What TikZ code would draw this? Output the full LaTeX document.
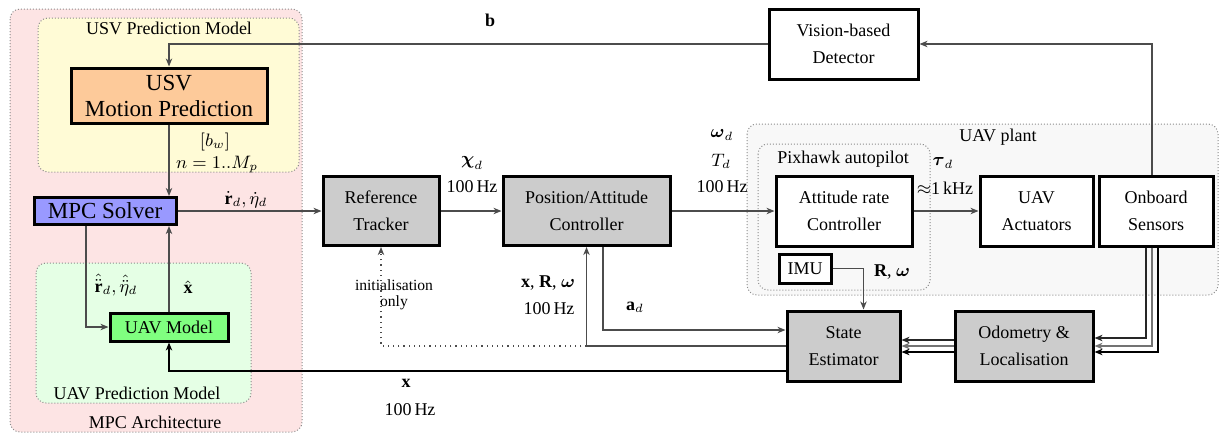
\documentclass[tikz,border=0pt]{standalone}
\usepackage{amsmath,amssymb}
\usepackage{fontspec}
\setmainfont{Liberation Serif}
\usetikzlibrary{arrows.meta}
\definecolor{pinkbg}{RGB}{253,228,228}
\definecolor{yellowbg}{RGB}{255,251,214}
\definecolor{greenbg}{RGB}{229,255,229}
\definecolor{usvorange}{RGB}{253,202,154}
\definecolor{mpcblue}{RGB}{153,153,255}
\definecolor{uavgreen}{RGB}{128,255,128}
\definecolor{graybox}{RGB}{204,204,204}
\definecolor{plantbg}{RGB}{248,248,248}
\begin{document}
\begin{tikzpicture}[x=0.5pt,y=-0.5pt,
  blk/.style={draw=black, line width=1.5pt, align=center, inner sep=0pt, font=\fontsize{9}{13.5}\selectfont},
  bigblk/.style={blk, font=\fontsize{11.5}{13}\selectfont},
  region/.style={draw=black!45, densely dotted, rounded corners=5pt, line width=0.5pt},
  conn/.style={draw=black!70, line width=0.6pt},
  arr/.style={conn, -{Stealth[length=4pt,width=3.2pt,inset=1.2pt]}},
  lbl/.style={font=\fontsize{9}{11}\selectfont, inner sep=0pt, align=center},
  smalllbl/.style={font=\fontsize{7.8}{8}\selectfont, inner sep=0pt, align=center},
]
\useasboundingbox (0,0) rectangle (1219,434);

% regions
\draw[region, fill=pinkbg] (10,9) rectangle (302,432);
\draw[region, fill=yellowbg] (38,18) rectangle (299,172);
\draw[region, fill=greenbg] (36,263) rectangle (251,403);
\draw[region, fill=plantbg] (747,124) rectangle (1218,295);
\draw[region] (758,144) rectangle (930,290);

\node[lbl] (tUSVP) at (169,28) {USV Prediction Model};
\node[lbl] (tMPCA) at (155,422) {MPC Architecture};
\node[lbl] (tUAVP) at (137,393) {UAV Prediction Model};
\node[lbl] (tPlant) at (998,137) {UAV plant};
\node[lbl] (tPix) at (843,159) {Pixhawk autopilot};

% blocks
\node[bigblk, fill=usvorange, minimum width=98pt, minimum height=27.5pt] (usv) at (169,95.5) {USV\\Motion Prediction};
\node[bigblk, fill=mpcblue, minimum width=71pt, minimum height=13.5pt] (mpc) at (105,211) {MPC Solver};
\node[blk, fill=uavgreen, minimum width=59pt, minimum height=14pt] (uavm) at (169,327) {UAV Model};
\node[blk, fill=graybox, minimum width=58pt, minimum height=34.5pt] (rt) at (381,211) {Reference\\Tracker};
\node[blk, fill=graybox, minimum width=83.5pt, minimum height=34.5pt] (pac) at (586.5,211) {Position/Attitude\\Controller};
\node[blk, fill=white, minimum width=68pt, minimum height=35pt] (arc) at (844,211) {Attitude rate\\Controller};
\node[blk, fill=white, minimum width=56.5pt, minimum height=35pt] (act) at (1036.5,211) {UAV\\Actuators};
\node[blk, fill=white, minimum width=57pt, minimum height=35pt] (obs) at (1156,211) {Onboard\\Sensors};
\node[blk, fill=white, minimum width=74.5pt, minimum height=35pt] (vbd) at (843.5,44) {Vision-based\\Detector};
\node[blk, fill=white, minimum width=26pt, minimum height=14.5pt] (imu) at (805,268.5) {IMU};
\node[blk, fill=graybox, minimum width=56.5pt, minimum height=35pt] (se) at (843.5,346) {State\\Estimator};
\node[blk, fill=graybox, minimum width=69pt, minimum height=35pt] (odo) at (1024,346) {Odometry \&\\Localisation};

% connectors
\draw[arr] (vbd.west) -- (usv.north |- vbd.west) -- (usv.north);
\draw[arr] (usv.south) -- (mpc.north -| usv.south);
\draw[arr] (mpc.east) -- (rt.west);
\draw[arr] (rt.east) -- (pac.west);
\draw[arr] (pac.east) -- (arc.west);
\draw[arr] (arc.east) -- (act.west);
\draw[arr] ([xshift=-2pt]obs.north) |- (vbd.east);
\draw[arr, draw=black!85] ([xshift=-5pt]obs.south) |- ([yshift=4pt]odo.east);
\draw[arr, draw=black!55] ([xshift=-2pt]obs.south) |- (odo.east);
\draw[arr, draw=black] ([xshift=1pt]obs.south) |- ([yshift=-3pt]odo.east);
\draw[arr, draw=black!85] ([yshift=3pt]odo.west) -- ([yshift=3pt]se.east);
\draw[arr, draw=black!55] (odo.west) -- (se.east);
\draw[arr, draw=black] ([yshift=-3pt]odo.west) -- ([yshift=-3pt]se.east);
\draw[arr] (imu.east) -| ([xshift=10pt]se.north);
\draw[arr] (se.west) -| (pac.south);
\draw[arr, dotted] (pac.south |- se.west) -| (rt.south);
\draw[arr] ([xshift=8.25pt]pac.south) |- ([yshift=8pt]se.west);
\draw[arr, draw=black] ([yshift=-12.5pt]se.west) -| (uavm.south);
\draw[arr] (uavm.north) -- (uavm.north |- mpc.south);
\draw[arr] ([xshift=-9.5pt]mpc.south) |- (uavm.west);

% labels
\node[lbl] (lb) at (490,20) {$\mathbf{b}$};
\node[lbl] (lbw) at (215,142) {$[b_w]$};
\node[lbl] (ln) at (217,165) {$n=1..M_p$};
\node[lbl] (lrd) at (246,200) {$\dot{\mathbf{r}}_d, \dot{\eta}_d$};
\node[lbl] (lchi) at (472,163) {$\boldsymbol{\chi}_d$};
\node[lbl] (lchihz) at (472,187) {100\,Hz};
\node[lbl] (lom) at (722,135) {$\boldsymbol{\omega}_d$};
\node[lbl] (lT) at (721,161) {$T_d$};
\node[lbl] (lThz) at (722,187) {100\,Hz};
\node[lbl] (ltau) at (943,163) {$\boldsymbol{\tau}_d$};
\node[lbl] (ltauhz) at (945,188) {$\approx$1\,kHz};
\node[lbl] (lRw) at (892,272) {$\mathbf{R}$, $\boldsymbol{\omega}$};
\node[lbl] (lxRw) at (548,283) {$\mathbf{x}$, $\mathbf{R}$, $\boldsymbol{\omega}$};
\node[lbl] (lxRwhz) at (549,309) {100\,Hz};
\node[lbl] (lad) at (635,307) {$\mathbf{a}_d$};
\node[smalllbl] (linit) at (394,295) {initialisation\\only};
\node[lbl] (lx) at (406,383) {$\mathbf{x}$};
\node[lbl] (lxhz) at (410,410) {100\,Hz};
\node[lbl] (lrdd) at (116,285) {$\hat{\ddot{\mathbf{r}}}_d, \hat{\ddot{\eta}}_d$};
\node[lbl] (lxhat) at (188,287) {$\hat{\mathbf{x}}$};
\end{tikzpicture}
\end{document}
